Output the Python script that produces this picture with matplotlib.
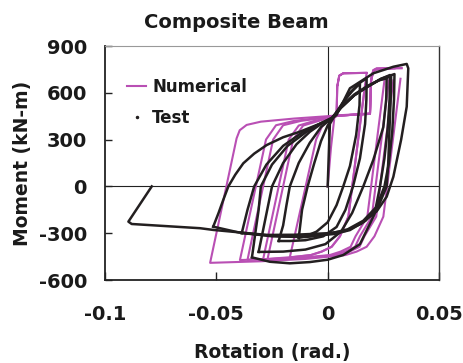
import matplotlib
matplotlib.use("Agg")
import matplotlib.pyplot as plt
from matplotlib.lines import Line2D

# ---------------- data ----------------
title = "Composite Beam"
x_label = "Rotation (rad.)"
y_label = "Moment (kN-m)"
x_ticks = [-0.1, -0.05, 0, 0.05]
x_tick_labels = ["-0.1", "-0.05", "0", "0.05"]
y_ticks = [-600, -300, 0, 300, 600, 900]
y_tick_labels = ["-600", "-300", "0", "300", "600", "900"]

# Numerical (model) response, cycle by cycle
num_rot_1 = [0, 0.0015, 0.003, 0.004, 0.0043, 0.0052, 0.007, 0.0175,
             0.0168, 0.0093, 0.0055, 0.0018, -0.0027, -0.0075, -0.017,
             -0.0052, -0.0025, 0.001, 0.004, 0.0043, 0.0052, 0.007, 0.0175]
num_mom_1 = [0, 250, 440, 460, 640, 710, 725, 728,
             650, -194, -320, -387, -418, -440, -455,
             300, 385, 430, 450, 640, 710, 725, 728]
num_rot_2 = [0.0168, 0.0093, 0.0055, 0.0018, -0.0027, -0.0075, -0.015, -0.027,
             -0.0155, -0.011, -0.004, 0.001, 0.004, 0.010, 0.019, 0.0195, 0.0205, 0.022, 0.026]
num_mom_2 = [650, -194, -320, -387, -418, -440, -452, -465,
             300, 390, 420, 440, 452, 458, 465, 680, 740, 750, 752]
num_rot_3 = [0.0255, 0.0178, 0.0125, 0.0103, 0.0058, 0.001, -0.010, -0.029,
             -0.0175, -0.013, -0.006, 0.001, 0.004, 0.010, 0.019, 0.0195, 0.0205, 0.022, 0.028]
num_mom_3 = [680, -194, -320, -387, -418, -440, -455, -468,
             300, 390, 420, 440, 452, 458, 465, 680, 740, 750, 754]
num_rot_4 = [0.0275, 0.0198, 0.0145, 0.0123, 0.0078, 0.003, -0.010, -0.036,
             -0.0245, -0.020, -0.012, 0.001, 0.004, 0.010, 0.019, 0.0195, 0.0205, 0.022, 0.030]
num_mom_4 = [680, -194, -320, -387, -418, -440, -458, -470,
             300, 392, 420, 445, 452, 458, 465, 680, 742, 752, 756]
num_rot_5 = [0.0295, 0.0218, 0.0165, 0.0143, 0.0098, 0.005, -0.010, -0.0394,
             -0.0277, -0.0232, -0.015, 0.001, 0.004, 0.010, 0.019, 0.0195, 0.0205, 0.022, 0.0332]
num_mom_5 = [680, -194, -320, -387, -418, -440, -460, -472,
             300, 392, 420, 447, 452, 458, 466, 680, 745, 755, 757]
num_rot_6 = [0.0327, 0.025, 0.021, 0.0175, 0.013, 0.008, -0.010, -0.030, -0.0528,
             -0.0409, -0.0395, -0.0364, -0.030, -0.015, 0.001, 0.004, 0.010, 0.019,
             0.0195, 0.0205, 0.022, 0.0332]
num_mom_6 = [690, -194, -320, -387, -418, -440, -465, -480, -490,
             308, 360, 394, 415, 435, 451, 455, 460, 468,
             680, 745, 757, 760]

# Test (experiment) response, branch by branch
test_rot_1 = [0, 0.0005, 0.001, 0.003, 0.007, 0.011, 0.0145,
              0.0143, 0.0128, 0.010, 0.007, 0.004, 0.000, -0.005, -0.010, -0.013]
test_mom_1 = [0, 200, 400, 450, 540, 610, 660,
              520, 330, 130, 0, -120, -230, -290, -320, -330]
test_rot_2 = [-0.013, -0.0115, -0.009, -0.006, -0.003, 0.000, 0.002, 0.006, 0.010, 0.014, 0.0175,
              0.0174, 0.0168, 0.0145, 0.0114, 0.008, 0.004, -0.002, -0.010, -0.017, -0.022]
test_mom_2 = [-330, -150, 0, 150, 290, 390, 435, 520, 600, 660, 693,
              560, 400, 180, 0, -150, -260, -320, -345, -350, -350]
test_rot_3 = [-0.022, -0.020, -0.0185, -0.017, -0.013, -0.008, -0.003, 0.002, 0.006, 0.012, 0.018,
              0.023, 0.0265,
              0.0263, 0.025, 0.0205, 0.016, 0.011, 0.006, -0.001, -0.010, -0.020, -0.031]
test_mom_3 = [-350, -250, -120, 0, 150, 280, 380, 440, 510, 590, 645,
              680, 693,
              560, 380, 170, 0, -170, -290, -370, -405, -418, -420]
test_rot_4 = [-0.031, -0.029, -0.027, -0.025, -0.020, -0.014, -0.008, -0.002, 0.002, 0.006, 0.012,
              0.018, 0.024, 0.028,
              0.0278, 0.027, 0.0255, 0.0235, 0.021, 0.0145, 0.007, 0.000, -0.008, -0.017, -0.026, -0.034]
test_mom_4 = [-420, -280, -140, 0, 150, 270, 350, 410, 440, 505, 585,
              640, 690, 714,
              560, 380, 180, 0, -180, -370, -440, -470, -485, -493, -483, -455]
test_rot_5 = [-0.034, -0.0325, -0.031, -0.030, -0.025, -0.018, -0.010, -0.003, 0.002, 0.006, 0.012,
              0.018, 0.023, 0.0285,
              0.0283, 0.0278, 0.0272, 0.0265, 0.023, 0.017, 0.010, 0.003, -0.008, -0.020, -0.030, -0.0386]
test_mom_5 = [-455, -300, -150, 0, 140, 260, 345, 405, 440, 505, 585,
              640, 680, 705,
              560, 380, 150, 0, -120, -220, -280, -305, -320, -320, -310, -300]
test_rot_6 = [-0.0386, -0.036, -0.033, -0.0275, -0.020, -0.011, -0.003, 0.002, 0.006, 0.012, 0.018,
              0.024, 0.030,
              0.0298, 0.029, 0.0275, 0.0255, 0.022, 0.016, 0.009, 0.002, -0.010, -0.025, -0.040, -0.0514]
test_mom_6 = [-300, -150, 0, 140, 260, 350, 405, 435, 505, 585, 640,
              690, 720,
              560, 350, 150, 0, -130, -220, -275, -300, -325, -320, -295, -258]
test_rot_7 = [-0.0514, -0.0490, -0.0469, -0.0446, -0.0415, -0.0379, -0.033, -0.0274, -0.020,
              -0.0124, -0.005, 0.001, 0.004, 0.010, 0.0205,
              0.0295, 0.0355,
              0.0362, 0.0355, 0.033, 0.0295, 0.0265, 0.022, 0.015, 0.008, 0.000, -0.015, -0.0274,
              -0.0514, -0.0573, -0.088, -0.0895, -0.079]
test_mom_7 = [-258, -170, -87, 0, 75, 148, 210, 265, 315,
              351, 393, 426, 458, 629, 725,
              767, 785,
              757, 511, 300, 62, -66, -160, -240, -285, -300, -310, -311,
              -279, -268, -241, -226, 0]

num_series = [(num_rot_1, num_mom_1), (num_rot_2, num_mom_2), (num_rot_3, num_mom_3),
              (num_rot_4, num_mom_4), (num_rot_5, num_mom_5), (num_rot_6, num_mom_6)]
test_series = [(test_rot_1, test_mom_1), (test_rot_2, test_mom_2), (test_rot_3, test_mom_3),
               (test_rot_4, test_mom_4), (test_rot_5, test_mom_5), (test_rot_6, test_mom_6),
               (test_rot_7, test_mom_7)]

# ---------------- style ----------------
plt.rcParams['font.family'] = ['DejaVu Sans']
plt.rcParams['font.weight'] = 'bold'
num_color = '#b94fb4'
test_color = '#231f20'
text_color = '#1a1a1a'

fig = plt.figure(figsize=(4.64, 3.63), dpi=100)
ax = fig.add_axes([105 / 464, 1 - 280 / 363, 334 / 464, 234 / 363])

ax.axhline(0, color='#222222', lw=0.8, zorder=1)
ax.axvline(0, color='#222222', lw=0.8, zorder=1)

for r, m in num_series:
    ax.plot(r, m, color=num_color, lw=1.5, solid_joinstyle='round', zorder=2)
for r, m in test_series:
    ax.plot(r, m, color=test_color, lw=1.8, solid_joinstyle='round', zorder=3)

ax.set_xlim(-0.1, 0.05)
ax.set_ylim(-600, 900)
ax.set_xticks(x_ticks, labels=x_tick_labels)
ax.set_yticks(y_ticks, labels=y_tick_labels)
ax.tick_params(axis='x', direction='in', length=6, width=1, pad=18, labelsize=14,
               color='#222222', labelcolor=text_color)
ax.tick_params(axis='y', direction='in', length=5, width=1, pad=13, labelsize=14,
               color='#222222', labelcolor=text_color)
for lab in ax.get_xticklabels() + ax.get_yticklabels():
    lab.set_fontweight('bold')

ax.spines['left'].set_color('#222222')
ax.spines['bottom'].set_color('#222222')
ax.spines['left'].set_linewidth(1.3)
ax.spines['bottom'].set_linewidth(1.3)
ax.spines['top'].set_color('#999999')
ax.spines['top'].set_linewidth(0.8)
ax.spines['right'].set_color('#333333')
ax.spines['right'].set_linewidth(1.0)

ax.set_xlabel(x_label, fontsize=13.5, fontweight='bold', labelpad=14, color=text_color)
ax.set_ylabel(y_label, fontsize=13.5, fontweight='bold', labelpad=5, color=text_color)
fig.text(236 / 464, 1 - 22 / 363, title, ha='center', va='center',
         fontsize=14, fontweight='bold', color=text_color)

handles = [Line2D([], [], color=num_color, lw=1.5),
           Line2D([], [], color=test_color, lw=0, marker='.', markersize=3)]
leg = ax.legend(handles, ["Numerical", "Test"], loc='upper left',
                bbox_to_anchor=(0.066, 0.862), frameon=False, fontsize=12,
                handlelength=1.15, handletextpad=0.35, labelspacing=0.75,
                borderpad=0, borderaxespad=0)
for t in leg.get_texts():
    t.set_fontweight('bold')
    t.set_color(text_color)

fig.savefig("out.png", dpi=100)
